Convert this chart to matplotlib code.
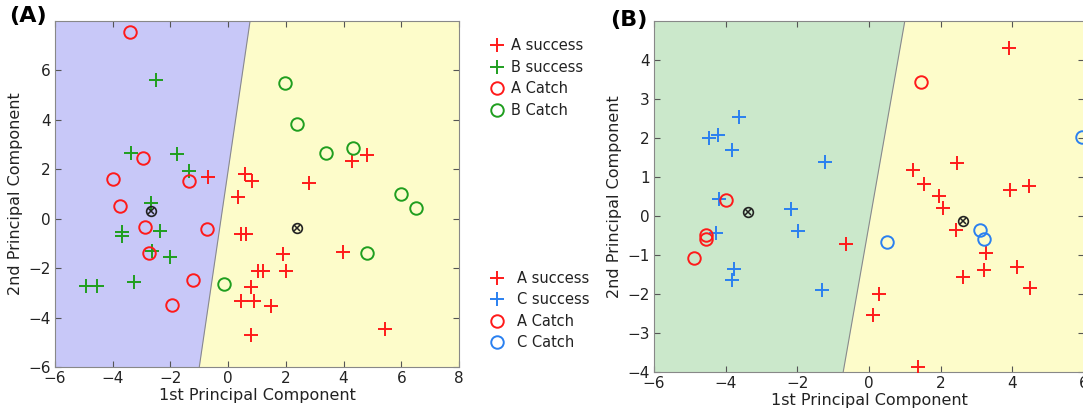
import numpy as np
import matplotlib
matplotlib.use("Agg")
import matplotlib.pyplot as plt
from matplotlib.lines import Line2D

# ---- panel A : classes A and B ----
a_succ_x = [-0.70, 0.58, 0.84, 0.35, 2.80, 4.30, 4.82, 0.43, 0.62, 1.91, 3.99,
            1.04, 1.22, 1.99, 0.78, 0.46, 0.91, 1.48, 0.79, 5.43]
a_succ_y = [1.70, 1.80, 1.52, 0.87, 1.43, 2.33, 2.57, -0.63, -0.60, -1.42, -1.34,
            -2.10, -2.10, -2.10, -2.75, -3.35, -3.35, -3.54, -4.72, -4.45]
b_succ_x = [-2.49, -3.38, -1.76, -1.37, -2.68, -3.69, -3.69, -2.36, -2.65, -2.02,
            -4.93, -4.55, -3.25]
b_succ_y = [5.62, 2.67, 2.63, 1.92, 0.65, -0.54, -0.71, -0.50, -1.32, -1.53,
            -2.74, -2.74, -2.56]
a_catch_x = [-3.41, -2.94, -3.98, -1.37, -3.75, -2.88, -0.72, -2.74, -1.23, -1.96]
a_catch_y = [7.54, 2.44, 1.59, 1.52, 0.52, -0.34, -0.43, -1.38, -2.48, -3.51]
b_catch_x = [1.96, 2.37, 3.39, 4.34, 6.00, 6.51, 4.82, -0.14]
b_catch_y = [5.51, 3.82, 2.67, 2.87, 0.98, 0.42, -1.37, -2.64]
centroid_ab_x = [-2.67, 2.37]
centroid_ab_y = [0.33, -0.37]
boundary_ab_x = [-1.00, 0.76]
boundary_ab_y = [-6, 8]

# ---- panel B : classes A and C ----
a2_succ_x = [-0.64, 3.92, 2.46, 1.23, 1.54, 1.94, 2.06, 3.94, 4.47, 2.44, 3.27,
             3.22, 2.61, 4.13, 4.50, 0.28, 0.11, 1.38]
a2_succ_y = [-0.73, 4.31, 1.35, 1.18, 0.83, 0.51, 0.21, 0.66, 0.76, -0.35, -0.96,
             -1.39, -1.57, -1.32, -1.85, -2.00, -2.53, -3.88]
c_succ_x = [-3.63, -4.46, -4.22, -3.83, -1.22, -4.20, -2.19, -1.99, -4.27, -3.77,
            -3.81, -1.30]
c_succ_y = [2.54, 1.99, 2.08, 1.69, 1.38, 0.43, 0.17, -0.38, -0.43, -1.37,
            -1.64, -1.90]
a2_catch_x = [1.45, -4.00, -4.56, -4.56, -4.89]
a2_catch_y = [3.44, 0.40, -0.50, -0.60, -1.09]
c_catch_x = [0.50, 3.11, 3.20, 5.95]
c_catch_y = [-0.66, -0.36, -0.58, 2.02]
centroid_ac_x = [-3.38, 2.62]
centroid_ac_y = [0.10, -0.13]
boundary_ac_x = [-0.72, 1.00]
boundary_ac_y = [-4, 5]

RED = "#ff1a1a"
GREEN = "#1f9e1f"
BLUE = "#2a80f0"
YELLOW = "#fdfcca"
LAVENDER = "#c8c8f8"
MINT = "#cbe8cb"
MS = 9

fig = plt.figure(figsize=(10.83, 4.13), dpi=100)
ax1 = fig.add_axes([0.0508, 0.1114, 0.373, 0.8378])
ax2 = fig.add_axes([0.6039, 0.0993, 0.397, 0.850])


def draw_panel(ax, xlim, ylim, bx, by, left_col, sets, cx, cy):
    ys = np.array(by, dtype=float)
    xs = np.array(bx, dtype=float)
    ax.fill_betweenx(ys, xlim[0], xs, color=left_col, lw=0, zorder=0)
    ax.fill_betweenx(ys, xs, xlim[1], color=YELLOW, lw=0, zorder=0)
    ax.plot(xs, ys, color="#8a8a8a", lw=0.8, zorder=1)
    for x, y, mk, col in sets:
        if mk == "+":
            ax.plot(x, y, "+", color=col, ms=MS + 1, mew=1.4, ls="none", zorder=3)
        else:
            ax.plot(x, y, "o", mfc="none", mec=col, ms=MS, mew=1.4, ls="none", zorder=3)
    ax.plot(cx, cy, "o", mfc="none", mec="#222222", ms=7, mew=1.2, ls="none", zorder=4)
    ax.plot(cx, cy, "x", color="#222222", ms=4.5, mew=1.1, ls="none", zorder=4)
    ax.set_xlim(xlim)
    ax.set_ylim(ylim)
    ax.tick_params(direction="in", top=True, right=True, length=4,
                   labelsize=11, color="#555555", labelcolor="#222222", pad=3)
    for s in ax.spines.values():
        s.set_color("#888888")
        s.set_linewidth(0.8)
    ax.set_xlabel("1st Principal Component", fontsize=11.5, labelpad=1, color="#222222")
    ax.set_ylabel("2nd Principal Component", fontsize=11.5, labelpad=4, color="#222222")


draw_panel(ax1, (-6, 8), (-6, 8), boundary_ab_x, boundary_ab_y, LAVENDER,
           [(a_succ_x, a_succ_y, "+", RED), (b_succ_x, b_succ_y, "+", GREEN),
            (a_catch_x, a_catch_y, "o", RED), (b_catch_x, b_catch_y, "o", GREEN)],
           centroid_ab_x, centroid_ab_y)
ax1.set_xticks(np.arange(-6, 9, 2))
ax1.set_yticks(np.arange(-6, 7, 2))

draw_panel(ax2, (-6, 6), (-4, 5), boundary_ac_x, boundary_ac_y, MINT,
           [(a2_succ_x, a2_succ_y, "+", RED), (c_succ_x, c_succ_y, "+", BLUE),
            (a2_catch_x, a2_catch_y, "o", RED), (c_catch_x, c_catch_y, "o", BLUE)],
           centroid_ac_x, centroid_ac_y)
ax2.set_xticks(np.arange(-6, 7, 2))
ax2.set_yticks(np.arange(-4, 5, 1))


def handles(col2):
    return [Line2D([], [], marker="+", color=RED, ls="none", ms=MS + 1, mew=1.4),
            Line2D([], [], marker="+", color=col2, ls="none", ms=MS + 1, mew=1.4),
            Line2D([], [], marker="o", mfc="none", mec=RED, ls="none", ms=MS, mew=1.4),
            Line2D([], [], marker="o", mfc="none", mec=col2, ls="none", ms=MS, mew=1.4)]


fig.legend(handles(GREEN), ["A success", "B success", "A Catch", "B Catch"],
           loc="upper left", bbox_to_anchor=(0.445, 0.925), frameon=False,
           fontsize=10.5, handlelength=1.0, handletextpad=0.5, labelspacing=0.45,
           borderpad=0, labelcolor="#222222")
fig.legend(handles(BLUE), ["A success", "C success", "A Catch", "C Catch"],
           loc="upper left", bbox_to_anchor=(0.445, 0.362), frameon=False,
           fontsize=10.5, handlelength=1.0, handletextpad=0.9, labelspacing=0.45,
           borderpad=0, labelcolor="#222222")

fig.text(0.008, 0.985, "(A)", fontsize=16, fontweight="bold", va="top", ha="left")
fig.text(0.563, 0.975, "(B)", fontsize=16, fontweight="bold", va="top", ha="left")

fig.savefig("out.png", dpi=100)
